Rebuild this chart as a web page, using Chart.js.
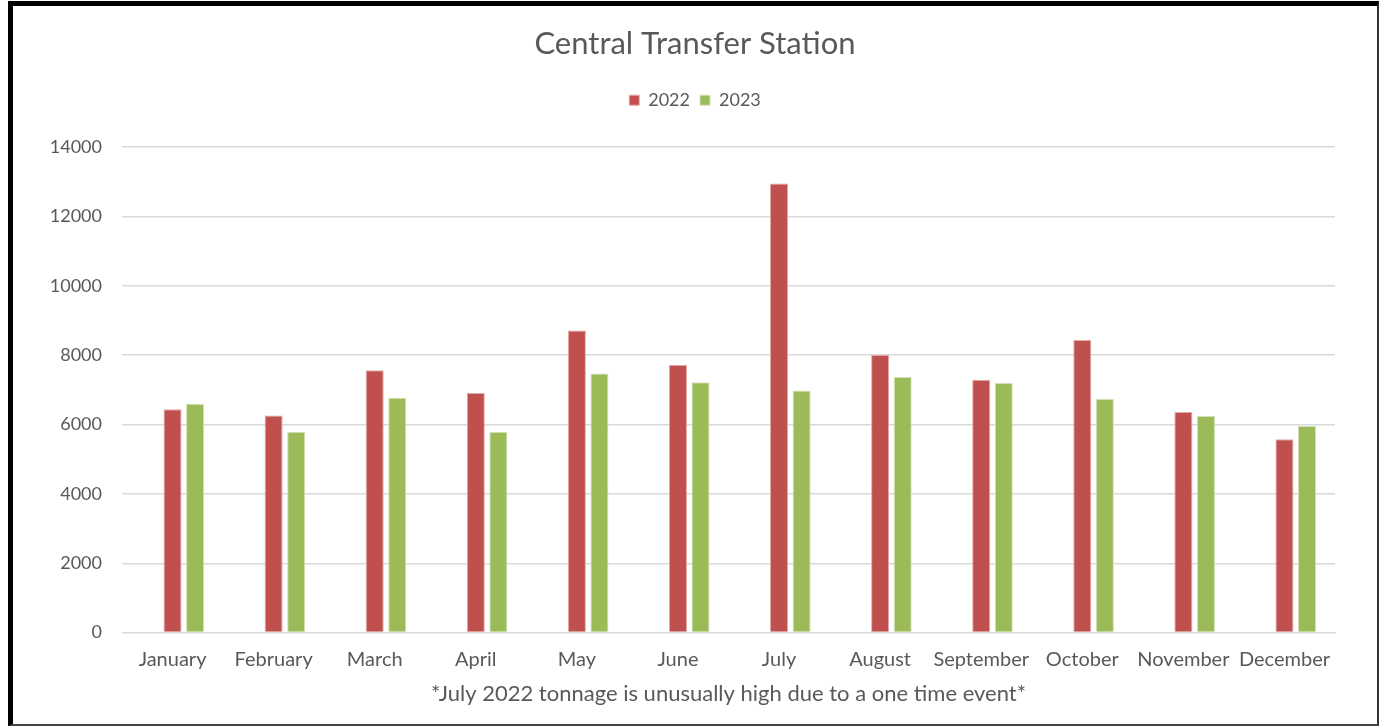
<!DOCTYPE html>
<html>
<head>
<meta charset="utf-8">
<script src="https://cdn.jsdelivr.net/npm/chart.js@4"></script>
<style>
  body { margin: 0; background: #fff; }
  #frame {
    position: absolute; left: 8px; top: 1px;
    width: 1364px; height: 718px;
    border-left: 5px solid #000; border-top: 5px solid #000;
    border-right: 2px solid #333; border-bottom: 2px solid #444;
    background: #fff;
  }
  #chart { display: block; }
</style>
</head>
<body>
<div id="frame"><canvas id="chart" width="1364" height="718"></canvas></div>
<script>
const months = ["January", "February", "March", "April", "May", "June", "July",
  "August", "September", "October", "November", "December"];
const tons2022 = [6440, 6260, 7570, 6910, 8710, 7720, 12950, 8010, 7290, 8440, 6360, 5580];
const tons2023 = [6600, 5790, 6770, 5790, 7470, 7220, 6980, 7370, 7200, 6740, 6250, 5960];
const yTicks = [0, 2000, 4000, 6000, 8000, 10000, 12000, 14000];

const textColor = "#595959";
const fontFam = "Lato, 'Open Sans', sans-serif";

// excel sheet has an empty series in front, it pushes the bars right of the label
const emptySeries = [];

const barOpts = { categoryPercentage: 0.67, barPercentage: 0.8, borderWidth: 1 };

const ctx = document.getElementById("chart").getContext("2d");
const chart = new Chart(ctx, {
  type: "bar",
  data: {
    labels: months,
    datasets: [
      { label: "", data: emptySeries, ...barOpts },
      { label: "2022", data: tons2022, backgroundColor: "#c0504d", borderColor: "#e3a9a7", ...barOpts },
      { label: "2023", data: tons2023, backgroundColor: "#9bbb59", borderColor: "#d3e2b6", ...barOpts }
    ]
  },
  options: {
    responsive: false,
    animation: false,
    layout: { padding: { left: 0, right: 0, top: 0, bottom: 17 } },
    plugins: {
      title: {
        display: true,
        text: "Central Transfer Station",
        color: textColor,
        font: { family: fontFam, size: 31, weight: "normal" },
        padding: { top: 19, bottom: 19 }
      },
      legend: {
        display: true,
        position: "top",
        labels: {
          color: textColor,
          font: { family: fontFam, size: 18 },
          boxWidth: 10,
          boxHeight: 10,
          padding: 10,
          filter: (item) => item.text !== ""
        }
      },
      tooltip: { enabled: false }
    },
    scales: {
      x: {
        grid: { display: false },
        border: { color: "#d9d9d9", width: 1 },
        ticks: {
          color: textColor,
          font: { family: fontFam, size: 20 },
          maxRotation: 0,
          autoSkip: false,
          padding: 7
        },
        title: {
          display: true,
          text: "*July 2022 tonnage is unusually high due to a one time event*",
          color: textColor,
          font: { family: fontFam, size: 22 },
          padding: { top: 2, bottom: 0 }
        }
      },
      y: {
        min: 0,
        max: 14000,
        afterFit: (scale) => { scale.width = 109; },
        afterBuildTicks: (scale) => { scale.ticks = yTicks.map(v => ({ value: v })); },
        grid: { color: "#d9d9d9", lineWidth: 1.5, drawTicks: false },
        border: { display: false },
        ticks: {
          color: textColor,
          font: { family: fontFam, size: 18 },
          padding: 20,
          callback: (v) => String(v)
        }
      },
      // blank space on the right so the title stays centred on the whole frame
      yRight: {
        position: "right",
        display: true,
        grid: { display: false },
        border: { display: false },
        ticks: { display: false },
        afterFit: (scale) => { scale.width = 42; }
      }
    }
  }
});

// more room under the legend, like the excel chart
const legendFit = chart.legend.fit;
chart.legend.fit = function () {
  legendFit.call(this);
  this.height += 28;
};
chart.update();
</script>
</body>
</html>
